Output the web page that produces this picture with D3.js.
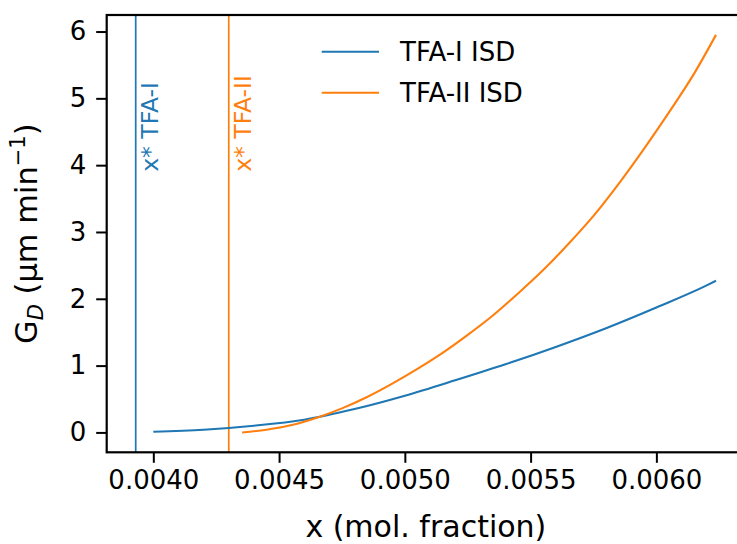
<!DOCTYPE html>
<html>
<head>
<meta charset="utf-8">
<script src="https://cdn.jsdelivr.net/npm/d3@7"></script>
<style>
  body { margin: 0; background: #ffffff; }
  text { font-family: "DejaVu Sans", sans-serif; }
</style>
</head>
<body>
<svg id="chart" width="737" height="544"></svg>
<script>
// Growth rate G_D versus mole fraction for the two forms
const isdI_x = [0.00400, 0.00420, 0.00440, 0.00460, 0.00480, 0.00500, 0.00520, 0.00540, 0.00560, 0.00580, 0.00600, 0.00620, 0.006237];
const isdI_g = [0.010, 0.04, 0.10, 0.19, 0.35, 0.55, 0.78, 1.02, 1.28, 1.56, 1.87, 2.20, 2.27];

const isdII_x = [0.004353, 0.00445, 0.00455, 0.00465, 0.00475, 0.00485, 0.00495, 0.00505, 0.00515, 0.00525, 0.00535, 0.00545, 0.00555, 0.00565, 0.00575, 0.00585, 0.00595, 0.00605, 0.00615, 0.006237];
const isdII_g = [0.00, 0.04, 0.11, 0.22, 0.36, 0.53, 0.73, 0.95, 1.19, 1.46, 1.75, 2.08, 2.43, 2.82, 3.24, 3.72, 4.24, 4.79, 5.37, 5.95];

// Solubility mole fractions x* of each form
const xStarI = 0.00393;
const xStarII = 0.00430;

const seriesNames = ["TFA-I ISD", "TFA-II ISD"];
const starLabels = ["x* TFA-I", "x* TFA-II"];
const xTicks = [0.0040, 0.0045, 0.0050, 0.0055, 0.0060];
const yTicks = [0, 1, 2, 3, 4, 5, 6];

const colors = ["#1f77b4", "#ff7f0e"];

const svg = d3.select("#chart");
svg.append("rect").attr("width", 737).attr("height", 544).attr("fill", "#ffffff");

const pLeft = 106.7, pTop = 15, pBottom = 452.3, pRight = 745;

// Autoscale with 5% margins on each side
const allX = isdI_x.concat(isdII_x, [xStarI, xStarII]);
const allY = isdI_g.concat(isdII_g);
const [xMin, xMax] = d3.extent(allX);
const [yMin, yMax] = d3.extent(allY);
const xPad = (xMax - xMin) * 0.05, yPad = (yMax - yMin) * 0.05;

const x = d3.scaleLinear().domain([xMin - xPad, xMax + xPad]).range([pLeft, pRight]);
const y = d3.scaleLinear().domain([yMin - yPad, yMax + yPad]).range([pBottom, pTop]);

const plot = svg.append("g");
plot.append("clipPath").attr("id", "clip")
  .append("rect").attr("x", pLeft).attr("y", pTop).attr("width", pRight - pLeft).attr("height", pBottom - pTop);

const data = [
  isdI_x.map((v, i) => [v, isdI_g[i]]),
  isdII_x.map((v, i) => [v, isdII_g[i]])
];

const line = d3.line().x(d => x(d[0])).y(d => y(d[1])).curve(d3.curveMonotoneX);

const marks = plot.append("g").attr("clip-path", "url(#clip)");

// vertical solubility lines
[xStarI, xStarII].forEach((xs, i) => {
  marks.append("line")
    .attr("x1", x(xs)).attr("x2", x(xs))
    .attr("y1", pTop).attr("y2", pBottom)
    .attr("stroke", colors[i]).attr("stroke-width", 1.7);
});

data.forEach((d, i) => {
  marks.append("path")
    .datum(d)
    .attr("d", line)
    .attr("fill", "none")
    .attr("stroke", colors[i])
    .attr("stroke-width", 2.1);
});

// rotated labels next to the x* lines
[xStarI, xStarII].forEach((xs, i) => {
  const tx = x(xs) + 22.5, ty = y(3.9);
  svg.append("text")
    .attr("transform", `translate(${tx},${ty}) rotate(-90)`)
    .attr("fill", colors[i])
    .attr("font-size", 23.5)
    .text(starLabels[i]);
});

// axes
const xAxis = d3.axisBottom(x).tickValues(xTicks).tickFormat(d3.format(".4f")).tickSize(10.5).tickPadding(8);
const yAxis = d3.axisLeft(y).tickValues(yTicks).tickFormat(d3.format("d")).tickSize(10.5).tickPadding(10);

const gx = svg.append("g").attr("transform", `translate(0,${pBottom})`).call(xAxis);
const gy = svg.append("g").attr("transform", `translate(${pLeft},0)`).call(yAxis);

[gx, gy].forEach(g => {
  g.select(".domain").remove();
  g.selectAll(".tick line").attr("stroke", "#000").attr("stroke-width", 2);
  g.selectAll(".tick text").attr("fill", "#000").attr("font-size", 26)
    .attr("font-family", "DejaVu Sans, sans-serif");
});

// spines
svg.append("rect")
  .attr("x", pLeft).attr("y", pTop)
  .attr("width", pRight - pLeft).attr("height", pBottom - pTop)
  .attr("fill", "none").attr("stroke", "#000").attr("stroke-width", 2.2);

// axis titles
svg.append("text")
  .attr("x", (pLeft + pRight) / 2).attr("y", 537)
  .attr("text-anchor", "middle")
  .attr("font-size", 30)
  .attr("fill", "#000")
  .text("x (mol. fraction)");

const yl = svg.append("text")
  .attr("transform", `translate(37,${(pTop + pBottom) / 2}) rotate(-90)`)
  .attr("text-anchor", "middle")
  .attr("font-size", 30.5)
  .attr("fill", "#000");
yl.append("tspan").text("G");
yl.append("tspan").attr("font-size", 21).attr("font-style", "italic").attr("dy", 6).text("D");
yl.append("tspan").attr("dy", -6).text(" (\u03BCm min");
yl.append("tspan").attr("font-size", 21).attr("dy", -12).text("\u22121");
yl.append("tspan").attr("dy", 12).text(")");

// legend
const legend = svg.append("g");
seriesNames.forEach((name, i) => {
  const ly = 51.7 + i * 41;
  legend.append("line")
    .attr("x1", 321.7).attr("x2", 379)
    .attr("y1", ly).attr("y2", ly)
    .attr("stroke", colors[i]).attr("stroke-width", 2.1);
  legend.append("text")
    .attr("x", 400).attr("y", ly)
    .attr("dy", "0.36em")
    .attr("font-size", 26)
    .attr("fill", "#000")
    .text(name);
});
</script>
</body>
</html>
